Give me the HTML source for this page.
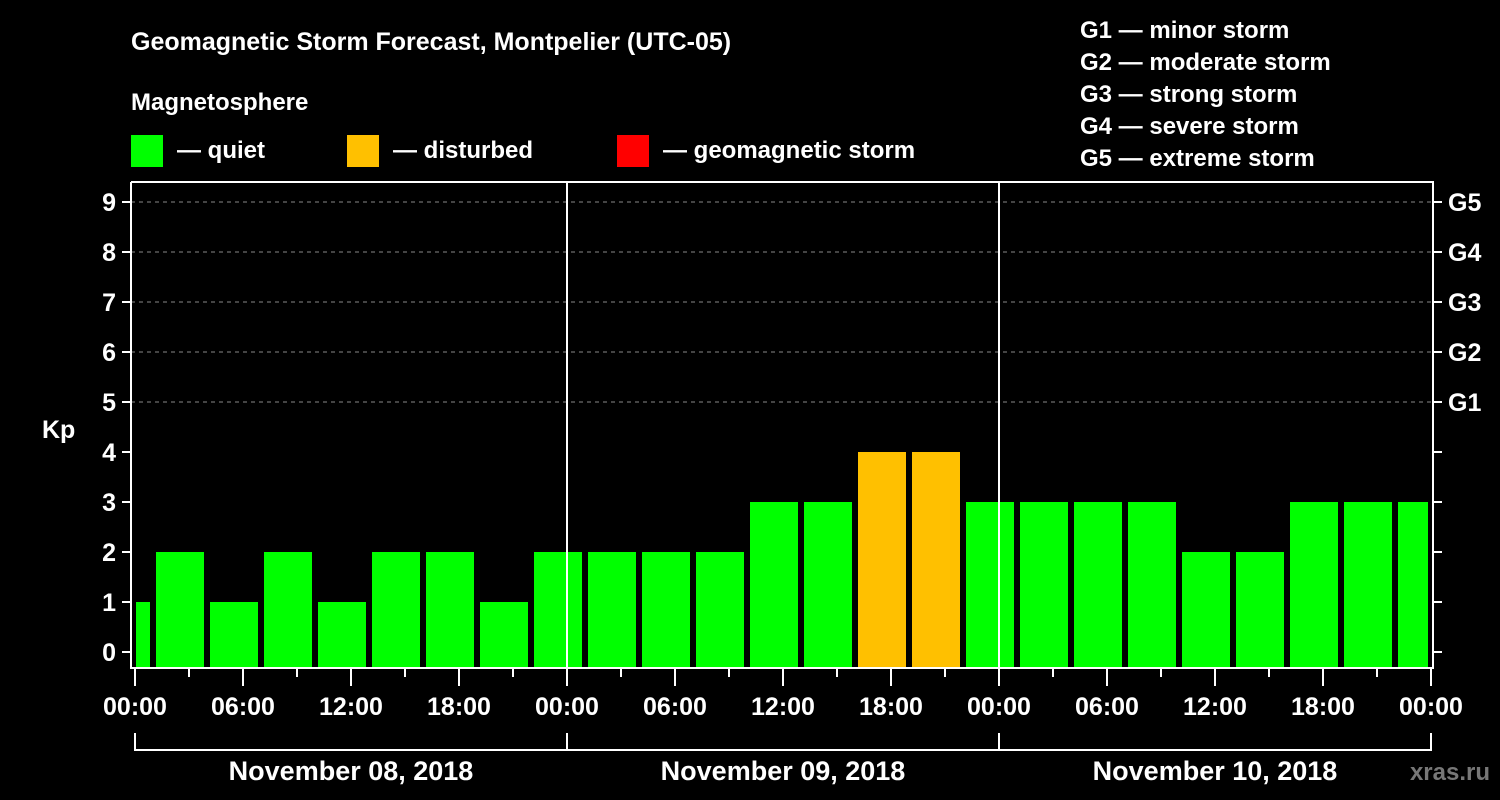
<!DOCTYPE html>
<html><head><meta charset="utf-8"><style>
body{margin:0;background:#000;width:1500px;height:800px;overflow:hidden}
svg{display:block;font-family:"Liberation Sans",Arial,sans-serif;font-weight:bold}
</style></head><body>
<svg id="c" width="1500" height="800" viewBox="0 0 1500 800">
<text x="131" y="50" fill="#fff" font-size="25">Geomagnetic Storm Forecast, Montpelier (UTC-05)</text>
<text x="131" y="110" fill="#fff" font-size="24">Magnetosphere</text>
<g><rect x="131" y="135" width="32" height="32" fill="#00ff00"/><text x="177" y="158" fill="#fff" font-size="24">— quiet</text></g>
<g><rect x="347" y="135" width="32" height="32" fill="#ffc000"/><text x="393" y="158" fill="#fff" font-size="24">— disturbed</text></g>
<g><rect x="617" y="135" width="32" height="32" fill="#ff0000"/><text x="663" y="158" fill="#fff" font-size="24">— geomagnetic storm</text></g>
<g fill="#fff" font-size="24">
<text x="1080" y="38">G1 — minor storm</text>
<text x="1080" y="70">G2 — moderate storm</text>
<text x="1080" y="102">G3 — strong storm</text>
<text x="1080" y="134">G4 — severe storm</text>
<text x="1080" y="166">G5 — extreme storm</text>
</g>
<text x="42" y="438" fill="#fff" font-size="25">Kp</text>
<text x="1490" y="780" fill="#777" font-size="24" text-anchor="end">xras.ru</text>
<g id="grid"></g><g id="bars"></g><g id="axes"></g>
</svg>
<script>
const kpValues=[1,2,1,2,1,2,2,1,2,2,2,2,3,3,4,4,3,3,3,3,2,2,3,3,3];
const startHour=-2; // first block starts at 22:00 previous day
const yTicks=[0,1,2,3,4,5,6,7,8,9];
const gLabels=["G1","G2","G3","G4","G5"];
const xTickLabels=["00:00","06:00","12:00","18:00","00:00","06:00","12:00","18:00","00:00","06:00","12:00","18:00","00:00"];
const dayLabels=["November 08, 2018","November 09, 2018","November 10, 2018"];
const NS="http://www.w3.org/2000/svg";
const L=131,R=1433,T=182,B=668,X0=135,PXH=18;
const x=h=>X0+h*PXH, y=v=>652-v*50;
function el(t,a,p){const e=document.createElementNS(NS,t);for(const k in a)e.setAttribute(k,a[k]);p.appendChild(e);return e;}
const grid=document.getElementById('grid'),bars=document.getElementById('bars'),ax=document.getElementById('axes');
for(let v=5;v<=9;v++){const g=el('line',{x1:L,x2:R,y1:y(v),y2:y(v),stroke:'#888','stroke-dasharray':'4,4'},grid);

}
kpValues.forEach((v,i)=>{let a=x(startHour+i*3)+3,b=x(startHour+i*3+3)-3;a=Math.max(a,X0+1);b=Math.min(b,R-5);
const col=v>=5?'#ff0000':v>=4?'#ffc000':'#00ff00';
const r=el('rect',{x:a,y:y(v),width:b-a,height:B-y(v),fill:col},bars);

});
for(const d of [1,2]){const l=el('line',{x1:x(d*24),x2:x(d*24),y1:T,y2:B,stroke:'#fff','stroke-width':2},ax);

}
const frame=el('path',{d:`M${L} ${T}V${B}H${R}V${T}H${L}`,fill:'none',stroke:'#fff','stroke-width':2},ax);


yTicks.forEach(v=>{el('line',{x1:122,x2:L,y1:y(v),y2:y(v),stroke:'#fff','stroke-width':2},ax);
el('line',{x1:R,x2:1442,y1:y(v),y2:y(v),stroke:'#fff','stroke-width':2},ax);
const t=el('text',{x:116,y:y(v)+9,fill:'#fff','font-size':25,'text-anchor':'end'},ax);t.textContent=v;

});
gLabels.forEach((g,i)=>{const t=el('text',{x:1448,y:y(i+5)+9,fill:'#fff','font-size':25},ax);t.textContent=g;

});
for(let h=0;h<=72;h+=3){el('line',{x1:x(h),x2:x(h),y1:B,y2:h%6==0?686:677,stroke:'#fff','stroke-width':2},ax);}
xTickLabels.forEach((s,i)=>{const t=el('text',{x:x(i*6),y:715,fill:'#fff','font-size':25,'text-anchor':'middle'},ax);t.textContent=s;

});
el('path',{d:`M${x(0)} 733V750H${x(72)}V733M${x(24)} 733V750M${x(48)} 733V750`,fill:'none',stroke:'#fff','stroke-width':2},ax);
dayLabels.forEach((s,i)=>{const t=el('text',{x:x(i*24+12),y:780,fill:'#fff','font-size':27,'text-anchor':'middle'},ax);t.textContent=s;

});
</script>
</body></html>
